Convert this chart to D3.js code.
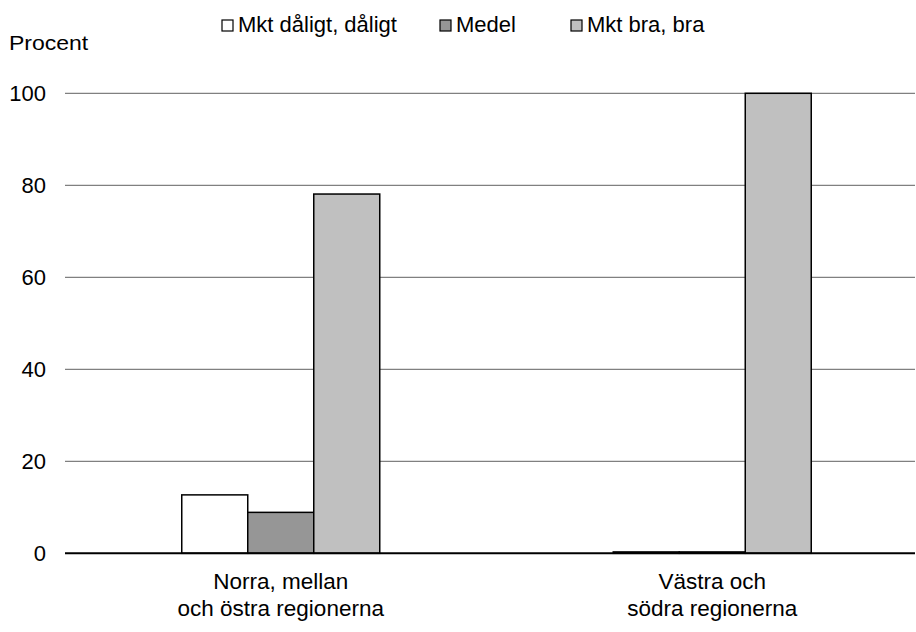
<!DOCTYPE html>
<html><head><meta charset="utf-8">
<script src="https://cdn.jsdelivr.net/npm/d3@7"></script>
<style>body{margin:0;background:#fff}text{font-family:"Liberation Sans",Arial,sans-serif;fill:#000}</style>
</head><body>
<svg id="c" width="916" height="632"></svg>
<script>
const categories = [["Norra, mellan","och östra regionerna"],["Västra och","södra regionerna"]];
const seriesNames = ["Mkt dåligt, dåligt","Medel","Mkt bra, bra"];
const seriesColors = ["#ffffff","#969696","#c0c0c0"];
const valsDaligt = [12.7, 0.3];
const valsMedel = [8.9, 0.3];
const valsBra = [78.1, 100];
const yTicks = [0,20,40,60,80,100];

const svg = d3.select("#c");
const y = d3.scaleLinear().domain([0,100]).range([553.3,93.3]);
const x0 = d3.scaleBand().domain([0,1]).range([65,928]).paddingInner(0).paddingOuter(0);
const groupW = 198;
const x1 = d3.scaleBand().domain([0,1,2]).range([0,groupW]).padding(0);
const series = [valsDaligt, valsMedel, valsBra];

// gridlines
svg.append("g").selectAll("line").data(yTicks.filter(d=>d>0)).join("line")
  .attr("x1",65).attr("x2",915).attr("y1",d=>y(d)).attr("y2",d=>y(d))
  .attr("stroke","#808080").attr("stroke-width",1.2);

// y tick labels
svg.append("g").selectAll("text").data(yTicks).join("text")
  .attr("x",46).attr("y",d=>y(d)+8).attr("text-anchor","end")
  .style("font-size","22px").text(d=>d);

svg.append("text").attr("x",9).attr("y",50).style("font-size","20px")
  .attr("transform","translate(9,0) scale(1.15,1) translate(-9,0)").text("Procent");

// bars
series.forEach((vals,si)=>{
  svg.append("g").selectAll("rect").data(vals).join("rect")
    .attr("x",(d,i)=>x0(i)+x0.bandwidth()/2-groupW/2+x1(si))
    .attr("width",x1.bandwidth())
    .attr("y",d=>y(d)).attr("height",d=>y(0)-y(d))
    .attr("fill",seriesColors[si]).attr("stroke","#000").attr("stroke-width",1.5);
});

// axis line
svg.append("line").attr("x1",65).attr("x2",915).attr("y1",y(0)).attr("y2",y(0))
  .attr("stroke","#000").attr("stroke-width",2);

// category labels
const cl = svg.append("g").selectAll("text").data(categories).join("text")
  .attr("text-anchor","middle").style("font-size","22.5px");
cl.each(function(d,i){
  const t=d3.select(this);
  const cx = x0(i)+x0.bandwidth()/2;
  d.forEach((line,j)=>t.append("tspan").attr("x",cx).attr("y",589+j*27).text(line));
});

// legend
const legX = [222,440,571];
const lg = svg.append("g").selectAll("g").data(seriesNames).join("g")
  .attr("transform",(d,i)=>`translate(${legX[i]},0)`);
lg.append("rect").attr("x",0).attr("y",20).attr("width",11).attr("height",11)
  .attr("fill",(d,i)=>seriesColors[i]).attr("stroke","#000").attr("stroke-width",1.2);
lg.append("text").attr("x",16).attr("y",32).style("font-size","22px").text(d=>d);
</script>
</body></html>
